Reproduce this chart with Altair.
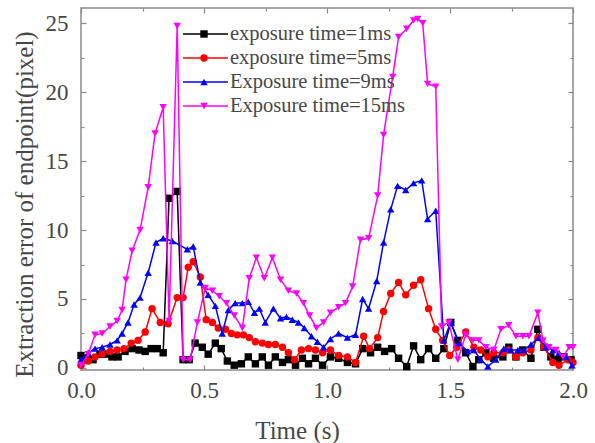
import altair as alt
import pandas as pd

# Series definitions
series_names = ["exposure time=1ms", "exposure time=5ms", "Exposure time=9ms", "Exposure time=15ms"]
series_codes = ["1ms", "5ms", "9ms", "15ms"]
series_colors = ["#000000", "#ff0000", "#0000ff", "#ff00ff"]
series_shapes = ["square", "circle", "triangle-up", "triangle-down"]

# exposure time = 1 ms
t_1ms = [0.000, 0.024, 0.049, 0.077, 0.102, 0.126, 0.151, 0.179, 0.208, 0.236,
         0.261, 0.285, 0.310, 0.334, 0.358, 0.391, 0.415, 0.440, 0.464, 0.493,
         0.517, 0.546, 0.570, 0.595, 0.623, 0.652, 0.680, 0.709, 0.737, 0.762,
         0.790, 0.819, 0.843, 0.872, 0.900, 0.925, 0.953, 0.982, 1.014, 1.047,
         1.083, 1.116, 1.145, 1.177, 1.206, 1.234, 1.263, 1.291, 1.324, 1.352,
         1.381, 1.413, 1.442, 1.475, 1.503, 1.532, 1.564, 1.593, 1.617, 1.646,
         1.678, 1.715, 1.739, 1.768, 1.796, 1.829, 1.857, 1.882, 1.910, 1.939,
         1.963, 1.992]
v_1ms = [0.9, 0.6, 0.6, 1.0, 1.0, 0.8, 0.8, 1.2, 1.4, 1.3,
         1.2, 1.4, 1.4, 1.1, 12.3, 12.8, 0.6, 0.6, 1.8, 1.5,
         1.0, 1.8, 1.4, 0.5, 0.2, 0.3, 0.8, 0.3, 0.8, 0.2,
         0.8, 0.4, 0.6, 0.2, 0.7, 0.3, 0.7, 0.2, 0.8, 0.7,
         0.4, 0.3, 1.4, 1.1, 1.5, 1.2, 1.4, 0.7, 0.1, 1.6,
         0.6, 1.4, 0.7, 1.4, 3.3, 2.0, 1.1, 0.1, 0.6, 1.1,
         0.7, 0.8, 1.5, 0.8, 1.3, 0.7, 2.8, 1.5, 0.8, 0.6,
         0.8, 0.6]

# exposure time = 5 ms
t_5ms = [0.000, 0.029, 0.057, 0.086, 0.118, 0.147, 0.175, 0.204, 0.232, 0.261,
         0.289, 0.322, 0.354, 0.391, 0.415, 0.436, 0.456, 0.485, 0.509, 0.534,
         0.558, 0.587, 0.611, 0.635, 0.660, 0.684, 0.709, 0.737, 0.762, 0.790,
         0.819, 0.843, 0.868, 0.896, 0.925, 0.953, 0.982, 1.014, 1.047, 1.083,
         1.116, 1.149, 1.173, 1.206, 1.230, 1.259, 1.291, 1.320, 1.352, 1.381,
         1.413, 1.442, 1.470, 1.499, 1.527, 1.564, 1.597, 1.625, 1.654, 1.678,
         1.715, 1.739, 1.768, 1.796, 1.829, 1.857, 1.882, 1.918, 1.943, 1.980,
         2.000]
v_5ms = [0.2, 0.5, 0.8, 1.0, 1.2, 1.3, 1.4, 1.8, 2.0, 2.6,
         4.3, 3.3, 3.2, 5.1, 5.1, 7.3, 7.7, 6.6, 3.5, 3.3,
         2.9, 2.8, 2.5, 2.4, 2.4, 2.2, 1.9, 1.8, 1.7, 1.7,
         1.5, 1.1, 0.6, 1.3, 1.4, 1.3, 1.1, 1.3, 0.9, 0.8,
         0.4, 2.3, 1.4, 2.2, 4.1, 5.4, 6.2, 5.3, 6.0, 6.4,
         4.3, 2.8, 2.0, 0.9, 1.5, 2.6, 1.5, 1.3, 0.8, 1.1,
         1.1, 1.3, 0.8, 1.1, 1.3, 2.2, 1.5, 0.4, 0.2, 0.6,
         0.4]

# exposure time = 9 ms
t_9ms = [0.000, 0.029, 0.057, 0.086, 0.118, 0.147, 0.167, 0.191, 0.216, 0.240,
         0.273, 0.305, 0.334, 0.371, 0.432, 0.456, 0.485, 0.517, 0.546, 0.574,
         0.599, 0.627, 0.656, 0.680, 0.705, 0.725, 0.749, 0.782, 0.811, 0.835,
         0.859, 0.884, 0.908, 0.937, 0.961, 0.986, 1.014, 1.047, 1.083, 1.116,
         1.145, 1.169, 1.202, 1.230, 1.259, 1.287, 1.320, 1.352, 1.385, 1.409,
         1.442, 1.475, 1.503, 1.536, 1.572, 1.597, 1.625, 1.654, 1.686, 1.719,
         1.747, 1.776, 1.800, 1.829, 1.861, 1.890, 1.919, 1.943, 1.971, 1.996]
v_9ms = [0.6, 1.1, 1.4, 1.5, 1.7, 2.0, 2.5, 3.3, 4.6, 5.1,
         6.9, 9.1, 9.4, 9.2, 8.6, 8.8, 6.2, 5.3, 4.5, 2.5,
         4.2, 4.7, 4.7, 4.8, 4.0, 4.3, 3.3, 4.3, 3.6, 3.7,
         3.5, 3.3, 2.9, 2.3, 1.9, 1.5, 2.1, 2.5, 2.2, 2.4,
         5.0, 4.3, 6.3, 9.1, 11.5, 13.2, 12.9, 13.4, 13.6, 10.8,
         11.4, 2.0, 3.3, 1.8, 1.2, 1.3, 0.6, 0.1, 0.6, 1.4,
         1.3, 1.3, 1.3, 1.7, 2.2, 1.5, 1.3, 1.1, 0.8, 0.2]

# exposure time = 15 ms
t_15ms = [0.000, 0.029, 0.057, 0.086, 0.118, 0.147, 0.167, 0.183, 0.208, 0.240,
          0.273, 0.301, 0.334, 0.358, 0.391, 0.415, 0.444, 0.473, 0.505, 0.534,
          0.562, 0.591, 0.623, 0.656, 0.684, 0.713, 0.745, 0.778, 0.811, 0.843,
          0.876, 0.904, 0.929, 0.957, 0.986, 1.014, 1.047, 1.075, 1.104, 1.136,
          1.169, 1.206, 1.230, 1.267, 1.291, 1.324, 1.352, 1.369, 1.389, 1.409,
          1.442, 1.466, 1.495, 1.532, 1.564, 1.593, 1.617, 1.646, 1.678, 1.707,
          1.739, 1.768, 1.796, 1.821, 1.857, 1.878, 1.902, 1.931, 1.959, 1.984,
          2.000]
v_15ms = [0.2, 1.0, 2.4, 2.5, 3.0, 3.4, 4.2, 6.4, 8.5, 10.0,
          13.1, 17.0, 18.9, 3.4, 24.8, 0.6, 0.6, 3.3, 5.8, 5.6,
          5.2, 4.7, 3.8, 2.9, 6.5, 8.0, 6.5, 8.0, 6.4, 5.6,
          5.4, 4.7, 3.8, 2.9, 3.3, 4.0, 4.4, 4.7, 5.9, 9.3,
          9.4, 12.5, 16.9, 21.1, 24.0, 24.6, 25.2, 25.3, 25.0, 20.6,
          20.4, 3.0, 3.3, 0.6, 2.4, 2.0, 2.0, 1.5, 1.3, 2.8,
          3.1, 2.3, 2.3, 2.3, 4.0, 2.0, 1.5, 1.3, 0.8, 1.5,
          1.5]

x_major = [0.0, 0.5, 1.0, 1.5, 2.0]
x_minor = [0.25, 0.75, 1.25, 1.75]
y_major = [0, 5, 10, 15, 20, 25]
y_minor = [2.5, 7.5, 12.5, 17.5, 22.5]

all_t = [t_1ms, t_5ms, t_9ms, t_15ms]
all_v = [v_1ms, v_5ms, v_9ms, v_15ms]

rows = []
for name, code, ts, vs in zip(series_names, series_codes, all_t, all_v):
    for t, v in zip(ts, vs):
        rows.append({"t": t, "v": v, "series": name, "code": code})
df = pd.DataFrame(rows)

FONT = "Liberation Serif"
TEXT = "#474747"
FRAME = "#8a8a8a"
W, H = 492, 362
MARK_SIZE = 55

x_scale = alt.Scale(domain=[0, 2.0], nice=False, zero=False)
y_scale = alt.Scale(domain=[-0.15, 26.1], nice=False, zero=False)

# legend with line samples and the series names
line_legend = alt.Legend(
    orient="none", legendX=101, legendY=14, title=None, padding=0,
    symbolType="stroke", symbolSize=2025, symbolStrokeWidth=1.5,
    clipHeight=24, rowPadding=0, labelOffset=1,
    labelFont=FONT, labelFontSize=20.5, labelColor=TEXT, labelLimit=300,
)
# legend with the markers only, laid over the middle of each line sample
marker_legend = alt.Legend(
    orient="none", legendX=118, legendY=14, title=None, padding=0,
    symbolSize=MARK_SIZE, symbolStrokeWidth=0, symbolOpacity=1,
    clipHeight=24, rowPadding=0, labelExpr="''",
)

stroke_enc = alt.Stroke("series:N", scale=alt.Scale(domain=series_names, range=series_colors),
                        legend=line_legend)
fill_enc = alt.Fill("code:N", scale=alt.Scale(domain=series_codes, range=series_colors),
                    legend=marker_legend)
shape_enc = alt.Shape("code:N", scale=alt.Scale(domain=series_codes, range=series_shapes),
                      legend=marker_legend)

x_plain = alt.X("t:Q", scale=x_scale, axis=None)
y_plain = alt.Y("v:Q", scale=y_scale, axis=None)

layers = []
for name in series_names:
    base = alt.Chart(df).transform_filter(alt.datum.series == name)
    layers.append(base.mark_line(strokeWidth=1.5).encode(x=x_plain, y=y_plain, stroke=stroke_enc))
    layers.append(base.mark_point(filled=True, size=MARK_SIZE, opacity=1).encode(
        x=x_plain, y=y_plain, fill=fill_enc, shape=shape_enc))


def tick_axis(orient, values, size):
    return alt.Axis(orient=orient, values=values, tickSize=size, offset=-size,
                    labels=False, domain=False, grid=False, title=None,
                    tickColor=FRAME, tickWidth=1.2)


def axis_layer(x_axis, y_axis):
    return alt.Chart(df).mark_point(opacity=0).encode(
        x=alt.X("t:Q", scale=x_scale, axis=x_axis),
        y=alt.Y("v:Q", scale=y_scale, axis=y_axis),
    )


x_label_axis = alt.Axis(
    orient="bottom", values=x_major, format=".1f", ticks=False, tickSize=0,
    domain=False, grid=False, labelFont=FONT, labelFontSize=23, labelColor=TEXT,
    labelPadding=9, labelFlush=False,
    title="Time (s)", titleFont=FONT, titleFontSize=25, titleColor=TEXT,
    titleFontWeight="normal", titleX=216, titleY=68, titleBaseline="alphabetic",
)
y_label_axis = alt.Axis(
    orient="left", values=y_major, ticks=False, tickSize=0,
    domain=False, grid=False, labelFont=FONT, labelFontSize=23, labelColor=TEXT,
    labelPadding=13, labelFlush=False,
    title="Extraction error of endpoint(pixel)", titleFont=FONT, titleFontSize=25,
    titleColor=TEXT, titleFontWeight="normal", titleX=-57, titleY=196,
    titleAngle=270, titleBaseline="middle", titleAlign="center",
)

axes = [
    axis_layer(x_label_axis, y_label_axis),
    axis_layer(tick_axis("bottom", x_major, 5), tick_axis("left", y_major, 5)),
    axis_layer(tick_axis("bottom", x_minor, 3), tick_axis("left", y_minor, 3)),
    axis_layer(tick_axis("top", x_major, 5), tick_axis("right", y_major, 5)),
    axis_layer(tick_axis("top", x_minor, 3), tick_axis("right", y_minor, 3)),
]

chart = alt.layer(*layers, *axes).resolve_axis(
    x="independent", y="independent"
).properties(
    width=W, height=H,
    autosize=alt.AutoSizeParams(type="none"),
    padding={"left": 81, "top": 8, "right": 22, "bottom": 73},
    background="white",
).configure_axis(
    labelFont=FONT, titleFont=FONT
).configure_legend(
    labelFont=FONT
).configure_view(
    stroke=FRAME, strokeWidth=1.5
)

chart.save("out.html", embed_options={"renderer": "svg", "actions": False})
